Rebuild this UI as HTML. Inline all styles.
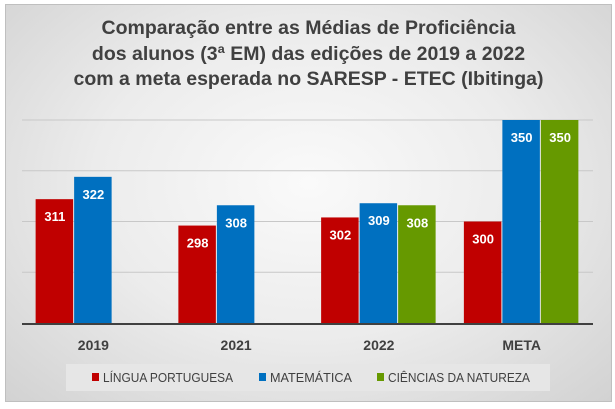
<!DOCTYPE html>
<html><head><meta charset="utf-8"><style>
html,body{margin:0;padding:0;background:#fff;}
#chart{position:absolute;left:5px;top:4px;width:605px;height:396px;border:1px solid #bfbfbf;background:radial-gradient(ellipse at 50% 45%,#fafafa 0%,#ececec 50%,#d2d2d2 100%);font-family:"Liberation Sans",sans-serif;}
#title{position:absolute;left:0;top:11px;width:605px;text-align:center;font-weight:bold;font-size:19.5px;line-height:25.5px;color:#404040;}
</style></head><body>
<div id="chart">
<div id="title">Comparação entre as Médias de Proficiência<br>dos alunos (3ª EM) das edições de 2019 a 2022<br>com a meta esperada no SARESP - ETEC (Ibitinga)</div>
</div>
<svg id="svg" width="615" height="409" style="position:absolute;left:0;top:0"></svg>
<script>
const categories=["2019","2021","2022","META"];
const seriesNames=["LÍNGUA PORTUGUESA","MATEMÁTICA","CIÊNCIAS DA NATUREZA"];
const portugues=[311,298,302,300];
const matematica=[322,308,309,350];
const ciencias=[null,null,308,350];
const gridValues=[275,300,325,350];
const colors=["#c00000","#0070c0","#669900"];
const series=[portugues,matematica,ciencias];
const NS="http://www.w3.org/2000/svg";
const svg=document.getElementById('svg');
const L=22,R=593,T=120,B=323,vmin=250,vmax=350;
const y=v=>B-(v-vmin)/(vmax-vmin)*(B-T);
const cw=(R-L)/categories.length,bw=38.5,gap=cw-3*bw;
function mk(t,a){const e=document.createElementNS(NS,t);for(const k in a)e.setAttribute(k,a[k]);svg.appendChild(e);return e;}
gridValues.forEach(v=>{const g=mk('line',{x1:L,x2:R,y1:y(v),y2:y(v),stroke:'#c8c8c8','stroke-width':1});

});
series.forEach((s,si)=>s.forEach((v,ci)=>{if(v==null)return;
const x=L+ci*cw+gap/2+si*bw;
const r=mk('rect',{x:x,y:y(v),width:bw-1,height:B-y(v),fill:colors[si]});


const t=mk('text',{x:x+bw/2,y:y(v)+22,'text-anchor':'middle',fill:'#fff','font-size':13,'font-weight':'bold','font-family':'Liberation Sans, sans-serif'});
t.textContent=v;

}));
const ax=mk('line',{x1:L,x2:R,y1:B+1,y2:B+1,stroke:'#404040','stroke-width':2});


categories.forEach((c,ci)=>{const t=mk('text',{x:L+ci*cw+cw/2,y:350,'text-anchor':'middle',fill:'#404040','font-size':14,'font-weight':'bold','font-family':'Liberation Sans, sans-serif'});
t.textContent=c;

});
const lg=mk('rect',{x:66,y:364,width:484,height:27,fill:'#e6e6e6'});


const lx=[92,259,377];
const lw=[130,82,142];
seriesNames.forEach((n,i)=>{const sq=mk('rect',{x:lx[i],y:373,width:7,height:8,fill:colors[i]});


const t=mk('text',{x:lx[i]+11,y:382,fill:'#404040','font-size':12.5,'font-family':'Liberation Sans, sans-serif',textLength:lw[i],lengthAdjust:'spacingAndGlyphs'});
t.textContent=n;

});
</script>
</body></html>
